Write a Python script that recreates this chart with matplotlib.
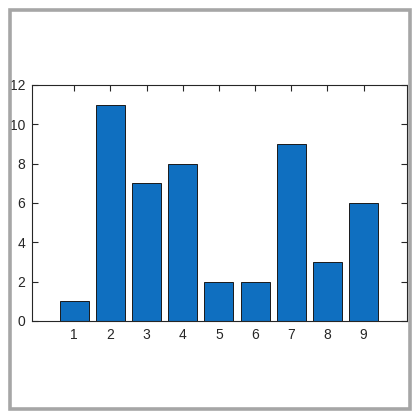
import matplotlib.pyplot as plt
from matplotlib.patches import Rectangle

# bar data
categories = [1, 2, 3, 4, 5, 6, 7, 8, 9]
values = [1, 11, 7, 8, 2, 2, 9, 3, 6]

plt.rcParams['font.family'] = ['Liberation Sans', 'DejaVu Sans']

fig = plt.figure(figsize=(4.2, 4.2), dpi=100)
fig.patch.set_facecolor('white')

# gray window frame
fig.patches.append(Rectangle((10.3 / 420, 11 / 420), 400 / 420, 399 / 420,
                             transform=fig.transFigure, fill=False,
                             edgecolor='#a6a6a6', linewidth=2.6))

ax = fig.add_axes([32 / 420, 1 - 321 / 420, 375 / 420, 236 / 420])
ax.bar(categories, values, width=0.8, color='#0f6fc0', edgecolor='#1a1a1a',
       linewidth=0.7, zorder=2)

ax.set_xlim(-0.17, 10.2)
ax.set_ylim(0, 12)
ax.set_xticks(categories)
ax.set_yticks(range(0, 13, 2))

ax.tick_params(direction='in', top=True, right=True, length=4, width=0.8,
               colors='#262626', labelsize=10, pad=5)
ax.tick_params(axis='x', labeltop=False)
for s in ax.spines.values():
    s.set_color('#262626')
    s.set_linewidth(0.8)

fig.savefig('out.png', dpi=100)
